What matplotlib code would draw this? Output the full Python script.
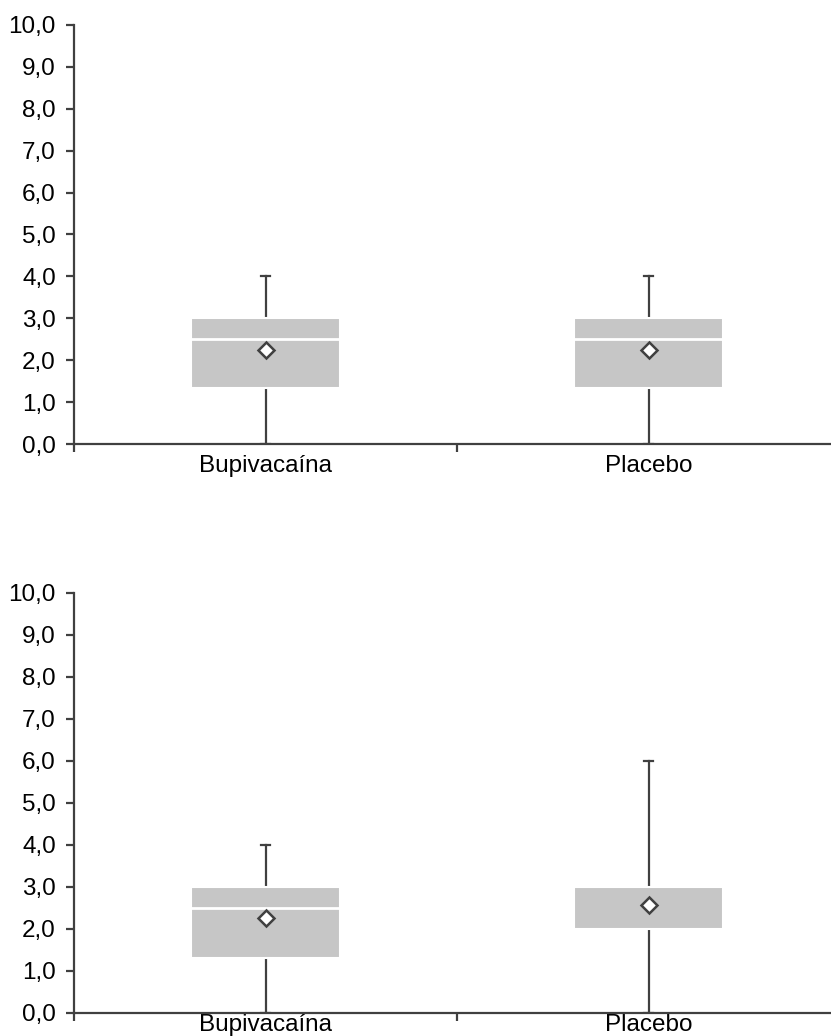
import matplotlib
matplotlib.use('Agg')
import matplotlib.pyplot as plt
from matplotlib.ticker import FixedLocator, FuncFormatter

plt.rcParams['font.family'] = ['Liberation Sans', 'DejaVu Sans']

groups = ['Bupivacaína', 'Placebo']

# top panel
top_q1 = [1.33, 1.33]
top_med = [2.5, 2.5]
top_q3 = [3.0, 3.0]
top_mean = [2.25, 2.25]
top_lo = [0.0, 0.0]
top_hi = [4.0, 4.0]

# bottom panel
bot_q1 = [1.3, 2.0]
bot_med = [2.5, None]
bot_q3 = [3.0, 3.0]
bot_mean = [2.27, 2.57]
bot_lo = [0.0, 0.0]
bot_hi = [4.0, 6.0]

yticks = [0, 1, 2, 3, 4, 5, 6, 7, 8, 9, 10]

LINE = '#404040'
FILL = '#c6c6c6'


def draw_panel(ax, q1, med, q3, mean, lo, hi, label_pad):
    stats = []
    for i, g in enumerate(groups):
        stats.append(dict(label=g, q1=q1[i], q3=q3[i],
                          med=med[i] if med[i] is not None else q3[i],
                          mean=mean[i], whislo=lo[i], whishi=hi[i], fliers=[]))
    pos = [1, 2]
    res = ax.bxp(stats, positions=pos, widths=0.39, capwidths=0.022,
                 showmeans=True, patch_artist=True, showfliers=False,
                 boxprops=dict(facecolor=FILL, edgecolor='white', linewidth=1.5),
                 medianprops=dict(color='white', linewidth=2),
                 whiskerprops=dict(color=LINE, linewidth=1.6),
                 capprops=dict(color=LINE, linewidth=1.6),
                 meanprops=dict(marker='D', markerfacecolor='white',
                                markeredgecolor=LINE, markeredgewidth=1.8,
                                markersize=8.5))
    for i, m in enumerate(med):
        if m is None:
            res['medians'][i].set_visible(False)
    # whiskers sit under the box, the white box edge gives the small gap
    for w in res['whiskers']:
        w.set_zorder(1)
    for b in res['boxes']:
        b.set_zorder(2)

    ax.set_xlim(0.5, 2.476)
    ax.set_ylim(0, 10)
    ax.spines['top'].set_visible(False)
    ax.spines['right'].set_visible(False)
    for s in ['left', 'bottom']:
        ax.spines[s].set_color(LINE)
        ax.spines[s].set_linewidth(1.6)
    ax.set_yticks(yticks)
    ax.yaxis.set_major_formatter(FuncFormatter(lambda v, p: f'{v:.1f}'.replace('.', ',')))
    ax.xaxis.set_major_locator(FixedLocator([0.5, 1.5, 2.5]))
    ax.xaxis.set_minor_locator(FixedLocator(pos))
    ax.set_xticklabels([], minor=False)
    ax.set_xticklabels(groups, minor=True)
    ax.tick_params(axis='x', which='minor', length=0, pad=label_pad, labelsize=17.5)
    ax.tick_params(axis='x', which='major', length=6, width=1.6, color=LINE)
    ax.tick_params(axis='y', length=6, width=1.6, color=LINE, labelsize=17.5, pad=7)


fig = plt.figure(figsize=(8.31, 10.36), dpi=100)
ax1 = fig.add_axes([74 / 831, 1 - 444 / 1036, 1 - 74 / 831, (444 - 25) / 1036])
ax2 = fig.add_axes([74 / 831, 1 - 1013 / 1036, 1 - 74 / 831, (1013 - 593) / 1036])

draw_panel(ax1, top_q1, top_med, top_q3, top_mean, top_lo, top_hi, 8)
draw_panel(ax2, bot_q1, bot_med, bot_q3, bot_mean, bot_lo, bot_hi, 0.5)

fig.savefig('out.png', dpi=100)
